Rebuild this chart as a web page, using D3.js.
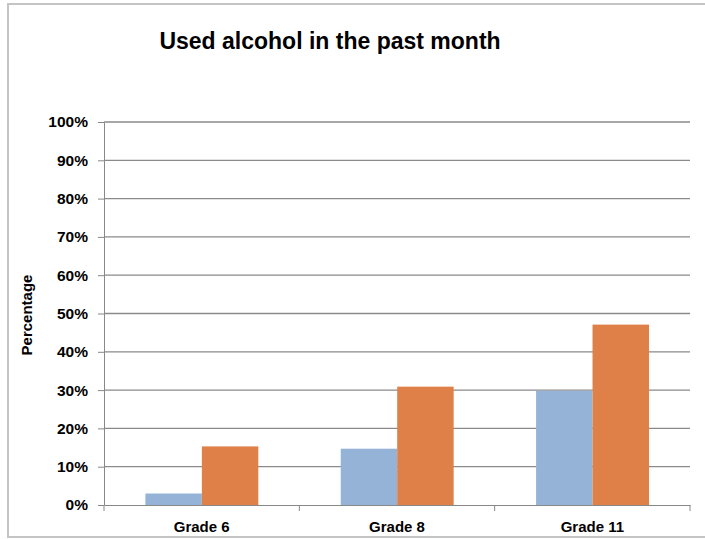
<!DOCTYPE html>
<html>
<head>
<meta charset="utf-8">
<script src="https://cdn.jsdelivr.net/npm/d3@7"></script>
<style>
  body { margin: 0; background: #fff; }
  svg { display: block; font-family: "Liberation Sans", Arial, sans-serif; }
  .yScale text, .xScale text { font-weight: bold; fill: #000; }
  .yScale path, .yScale line, .xScale path, .xScale line { stroke: #888; }
</style>
</head>
<body>
<svg id="chartSVG" width="705" height="539"></svg>
<script>
// chart values (percent)
var grades = ["Grade 6", "Grade 8", "Grade 11"];
var seriesNames = ["Series A", "Series B"];
var blueValues = [3.0, 14.7, 29.8];
var orangeValues = [15.3, 30.9, 47.1];
var yTicks = [0, 10, 20, 30, 40, 50, 60, 70, 80, 90, 100];
var seriesColors = ["#95b3d7", "#de8047"];

var svg = d3.select("#chartSVG");

// outer chart border (right side runs off the page)
svg.append("rect")
    .attr("x", 8).attr("y", 4)
    .attr("width", 720).attr("height", 533)
    .attr("fill", "none")
    .attr("stroke", "#c4c4c4")
    .attr("stroke-width", 2);

var plotLeft = 104, plotRight = 690, plotTop = 122, plotBottom = 505;

//defines x-scale
var xScale = d3.scaleBand()
            .domain(grades)
            .range([plotLeft, plotRight])
            .padding(0);

var bw = xScale.bandwidth();
var xInner = d3.scaleBand()
            .domain(seriesNames)
            .range([bw * 0.212, bw * 0.79]);

//defines y-scale
var yScale = d3.scaleLinear()
            .domain([0, 100])
            .range([plotBottom, plotTop]);

// gridlines
svg.append("g").attr("class", "grid")
    .selectAll("line")
    .data(yTicks.slice(1)).enter()
    .append("line")
    .attr("x1", plotLeft).attr("x2", plotRight)
    .attr("y1", function(d){ return yScale(d); })
    .attr("y2", function(d){ return yScale(d); })
    .attr("stroke", "#8a8a8a")
    .attr("stroke-width", 1.3);

// bars
var rows = grades.map(function(g, i){
    return [
        { grade: g, series: seriesNames[0], value: blueValues[i], color: seriesColors[0] },
        { grade: g, series: seriesNames[1], value: orangeValues[i], color: seriesColors[1] }
    ];
});

svg.append("g").attr("class", "bars")
    .selectAll("g")
    .data(rows).enter()
    .append("g")
    .attr("transform", function(d){ return "translate(" + xScale(d[0].grade) + ",0)"; })
    .selectAll("rect")
    .data(function(d){ return d; }).enter()
    .append("rect")
    .attr("x", function(d){ return xInner(d.series); })
    .attr("width", xInner.bandwidth())
    .attr("y", function(d){ return yScale(d.value); })
    .attr("height", function(d){ return plotBottom - yScale(d.value); })
    .attr("fill", function(d){ return d.color; });

// y axis
var yAxis = svg.append("g")
    .attr("class", "yScale")
    .attr("transform", "translate(" + plotLeft + ",0)")
    .call(d3.axisLeft(yScale)
        .tickValues(yTicks)
        .tickFormat(function(d){ return d + "%"; })
        .tickSize(6)
        .tickSizeOuter(0)
        .tickPadding(10));
yAxis.selectAll("text").style("font-size", "15.5px");

// x axis, ticks between the categories
var xAxis = svg.append("g")
    .attr("class", "xScale")
    .attr("transform", "translate(0," + plotBottom + ")")
    .call(d3.axisBottom(xScale).tickSize(0).tickSizeOuter(0).tickPadding(16));
xAxis.selectAll("text").style("font-size", "15px");

xAxis.selectAll(".sep")
    .data(grades.concat(["end"])).enter()
    .append("line")
    .attr("class", "sep")
    .attr("x1", function(d, i){ return plotLeft + i * bw; })
    .attr("x2", function(d, i){ return plotLeft + i * bw; })
    .attr("y1", 0).attr("y2", 6);

// title
svg.append("text")
    .attr("x", 330).attr("y", 49)
    .attr("text-anchor", "middle")
    .style("font-size", "23px")
    .style("font-weight", "bold")
    .text("Used alcohol in the past month");

// y axis label
svg.append("text")
    .attr("transform", "translate(32,315) rotate(-90)")
    .attr("text-anchor", "middle")
    .style("font-size", "15px")
    .style("font-weight", "bold")
    .text("Percentage");
</script>
</body>
</html>
